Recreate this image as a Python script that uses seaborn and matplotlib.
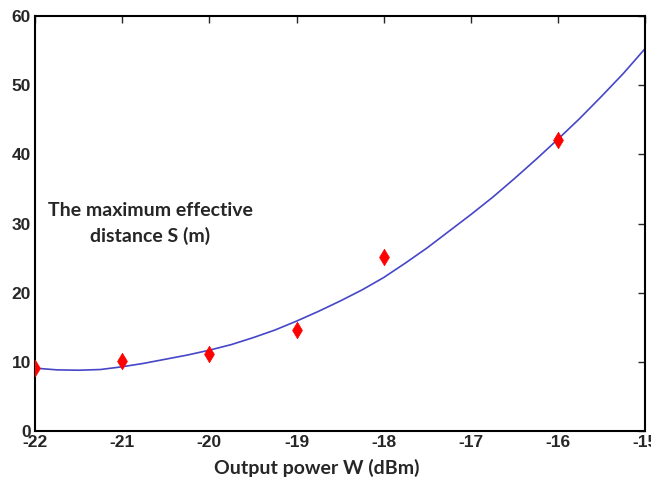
import matplotlib
matplotlib.use("Agg")
import matplotlib.pyplot as plt
import seaborn as sns

# === Data ===
power_dbm = [-22, -21, -20, -19, -18, -16]
distance_m = [9.1, 10.1, 11.1, 14.6, 25.1, 42.1]

curve_x = [-22.0, -21.75, -21.5, -21.25, -21.0, -20.75, -20.5, -20.25, -20.0,
           -19.75, -19.5, -19.25, -19.0, -18.75, -18.5, -18.25, -18.0,
           -17.75, -17.5, -17.25, -17.0, -16.75, -16.5, -16.25, -16.0,
           -15.75, -15.5, -15.25, -15.0]
curve_y = [9.1, 8.85, 8.8, 8.9, 9.3, 9.8, 10.4, 11.0, 11.7,
           12.5, 13.5, 14.6, 15.9, 17.3, 18.8, 20.4, 22.2,
           24.3, 26.5, 28.9, 31.3, 33.8, 36.5, 39.3, 42.2,
           45.2, 48.4, 51.7, 55.3]

xticks = [-22, -21, -20, -19, -18, -17, -16, -15]
yticks = [0, 10, 20, 30, 40, 50, 60]

# === Plot ===
sns.set_style("white")
plt.rcParams['font.family'] = ['Liberation Sans Narrow', 'Liberation Sans', 'DejaVu Sans']

fig = plt.figure(figsize=(6.51, 4.86), dpi=100)
ax = fig.add_axes([0.054, 0.113, 0.937, 0.854])

sns.lineplot(x=curve_x, y=curve_y, ax=ax, color='#4646c8', linewidth=1.2)
sns.scatterplot(x=power_dbm, y=distance_m, ax=ax, marker='d', s=70,
                color='red', edgecolor='red', linewidth=0.5, zorder=3)

ax.set_xlim(-22, -15)
ax.set_ylim(0, 60)
ax.set_xticks(xticks)
ax.set_yticks(yticks)
ax.set_xticklabels([str(t) for t in xticks])
ax.set_yticklabels([str(t) for t in yticks])
ax.tick_params(direction='in', length=5, width=1, top=True, right=True,
               labelsize=12.5, pad=3)
for lbl in ax.get_xticklabels() + ax.get_yticklabels():
    lbl.set_fontweight('bold')

for sp in ax.spines.values():
    sp.set_linewidth(1.5)
    sp.set_color('black')

ax.set_xlabel("Output power W (dBm)", fontsize=14, fontweight='bold',
              family=['Lato', 'DejaVu Sans'])
ax.xaxis.set_label_coords(0.462, -0.068)

ax.text(-20.68, 30.0, "The maximum effective\ndistance S (m)", ha='center', va='center',
        fontsize=14, fontweight='bold', family=['Lato', 'DejaVu Sans'],
        linespacing=1.5)

fig.savefig("out.png", dpi=100)
plt.close(fig)
